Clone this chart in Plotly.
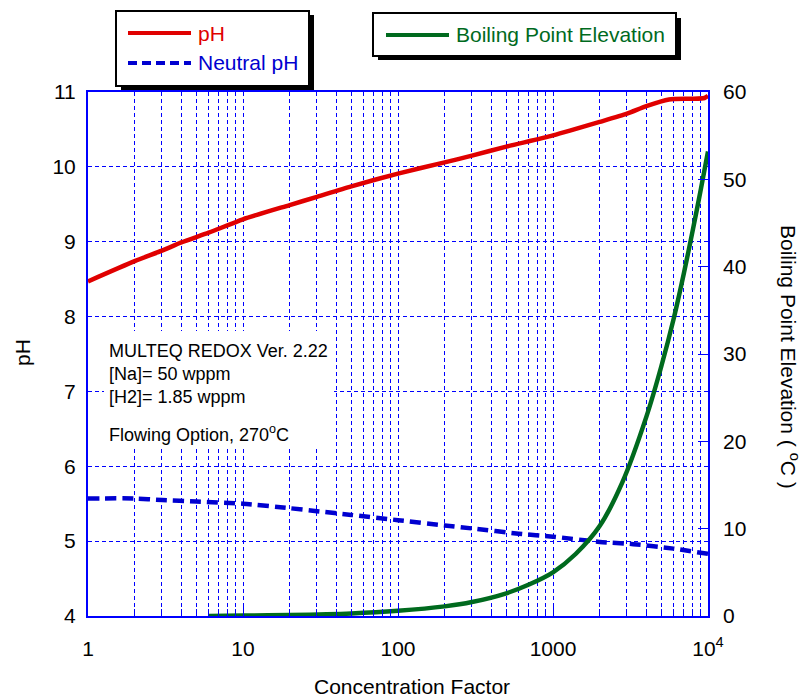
import plotly.graph_objects as go

# ---------------- data ----------------
cf_ph = [1, 2, 3, 4, 6, 10, 20, 30, 50, 100, 200, 300, 500, 1000, 2000, 3000, 4000, 5600, 7700, 9500, 10000]
ph = [8.47, 8.74, 8.88, 8.99, 9.12, 9.30, 9.49, 9.60, 9.74, 9.91, 10.06, 10.15, 10.27, 10.42, 10.60, 10.71,
      10.81, 10.90, 10.91, 10.92, 10.95]

cf_neutral = [1, 2, 3, 5, 10, 20, 30, 50, 100, 200, 300, 600, 1000, 2000, 3300, 6000, 10000]
neutral_ph = [5.57, 5.57, 5.55, 5.53, 5.50, 5.44, 5.40, 5.35, 5.28, 5.21, 5.17, 5.10, 5.06, 4.99, 4.96, 4.90, 4.83]

cf_bpe = [6, 10, 20, 50, 100, 200, 300, 500, 700, 1000, 1400, 2000, 2800, 4000, 5000, 6000, 7000, 8000,
          9000, 10000]
bpe = [0.0, 0.05, 0.12, 0.3, 0.6, 1.1, 1.6, 2.6, 3.6, 5.0, 7.1, 10.3, 15.3, 22.8, 28.6, 34.0, 39.3, 44.3,
       48.9, 53.2]

x_decades = [1, 10, 100, 1000, 10000]
x_decade_labels = ["1", "10", "100", "1000", "10<sup>4</sup>"]
ph_ticks = [4, 5, 6, 7, 8, 9, 10, 11]
bpe_ticks = [0, 10, 20, 30, 40, 50, 60]

# ---------------- styling ----------------
RED = "#e00000"
BLUE = "#0000d0"
GREEN = "#006a1e"
GRID = "#0000ff"
FONT = "Liberation Sans, Arial, sans-serif"
FS = 21

# minor log grid positions (2..9 in each decade)
x_minor_vals = [d * m for d in x_decades[:-1] for m in range(2, 10)]

fig = go.Figure()
fig.add_trace(go.Scatter(x=cf_ph, y=ph, mode="lines", name="pH",
                         line=dict(color=RED, width=4.5, shape="spline", smoothing=0.6), showlegend=False))
fig.add_trace(go.Scatter(x=cf_neutral, y=neutral_ph, mode="lines", name="Neutral pH",
                         line=dict(color=BLUE, width=4.5, dash="11px,6px", shape="spline", smoothing=0.6),
                         showlegend=False))
fig.add_trace(go.Scatter(x=cf_bpe, y=bpe, mode="lines", name="Boiling Point Elevation",
                         line=dict(color=GREEN, width=4.5, shape="spline", smoothing=0.8),
                         yaxis="y2", showlegend=False))

# pixel helpers for page-placed decorations
L, R, T, B = 88, 708, 92, 616
def px(x):
    return (x - L) / (R - L)
def py(y):
    return (B - y) / (B - T)

shapes = []
# white background behind the note text
shapes.append(dict(type="rect", xref="paper", yref="paper", layer="above",
                   x0=px(104), x1=px(334), y0=py(331), y1=py(448),
                   fillcolor="white", line=dict(width=0)))
# legend 1 (pH / Neutral pH)
shapes.append(dict(type="rect", xref="paper", yref="paper", x0=px(121), x1=px(314), y0=py(90), y1=py(15),
                   fillcolor="black", line=dict(width=0)))
shapes.append(dict(type="rect", xref="paper", yref="paper", x0=px(116), x1=px(309), y0=py(86), y1=py(11),
                   fillcolor="white", line=dict(color="black", width=2)))
shapes.append(dict(type="line", xref="paper", yref="paper", x0=px(128), x1=px(191), y0=py(33), y1=py(33),
                   line=dict(color=RED, width=4)))
shapes.append(dict(type="line", xref="paper", yref="paper", x0=px(128), x1=px(191), y0=py(63), y1=py(63),
                   line=dict(color=BLUE, width=4, dash="9px,5px")))
# legend 2 (Boiling Point Elevation)
shapes.append(dict(type="rect", xref="paper", yref="paper", x0=px(378), x1=px(681), y0=py(60), y1=py(18),
                   fillcolor="black", line=dict(width=0)))
shapes.append(dict(type="rect", xref="paper", yref="paper", x0=px(373), x1=px(676), y0=py(56), y1=py(13),
                   fillcolor="white", line=dict(color="black", width=2)))
shapes.append(dict(type="line", xref="paper", yref="paper", x0=px(386), x1=px(449), y0=py(35), y1=py(35),
                   line=dict(color=GREEN, width=4)))

ann = []
def text(x, y, s, size=18, color="black", xanchor="left", angle=0):
    ann.append(dict(x=px(x), y=py(y), xref="paper", yref="paper", text=s, showarrow=False,
                    xanchor=xanchor, yanchor="middle", textangle=angle,
                    font=dict(family=FONT, size=size, color=color)))

text(196, 33, "pH", FS, RED)
text(196, 63, "Neutral pH", FS, BLUE)
text(454, 35, "Boiling Point Elevation", FS, GREEN)

text(107, 351, "MULTEQ REDOX Ver. 2.22", 18)
text(107, 374, "[Na]= 50 wppm", 18)
text(107, 397, "[H2]= 1.85 wppm", 18)
text(107, 433, "Flowing Option, 270<sup>o</sup>C", 18)

text(22, 353, "pH", FS, xanchor="center", angle=-90)
text(790, 357, "Boiling Point Elevation ( <sup>o</sup>C )", FS, xanchor="center", angle=90)
text(412, 686, "Concentration Factor", FS, xanchor="center")

fig.update_layout(
    width=804, height=699, autosize=False,
    margin=dict(l=L, r=804 - R, t=T, b=699 - B, pad=0),
    paper_bgcolor="white", plot_bgcolor="white",
    font=dict(family=FONT, size=FS, color="black"),
    shapes=shapes, annotations=ann, showlegend=False,
    xaxis=dict(type="log", range=[0, 4], tickmode="array", tickvals=x_decades, ticktext=x_decade_labels,
               showgrid=True, gridcolor=GRID, griddash="4px,3px", gridwidth=1,
               minor=dict(tickmode="array", tickvals=x_minor_vals, showgrid=True, gridcolor=GRID,
                          griddash="4px,3px", gridwidth=1, ticks="inside", ticklen=7, tickcolor=GRID),
               showline=True, linecolor=GRID, linewidth=2, mirror=True,
               ticks="inside", ticklen=9, tickcolor=GRID, tickwidth=1,
               ticklabelstandoff=13, zeroline=False,
               tickfont=dict(family=FONT, size=FS, color="black")),
    yaxis=dict(range=[4, 11], tickmode="array", tickvals=ph_ticks,
               showgrid=True, gridcolor=GRID, griddash="4px,3px", gridwidth=1,
               showline=True, linecolor=GRID, linewidth=2, mirror=True, ticks="",
               ticklabelstandoff=6, zeroline=False,
               tickfont=dict(family=FONT, size=FS, color="black")),
    yaxis2=dict(range=[0, 60], tickmode="array", tickvals=bpe_ticks, overlaying="y", side="right",
                showgrid=False, showline=False, ticks="inside", ticklen=10, tickcolor=GRID, tickwidth=1,
                ticklabelstandoff=14, zeroline=False,
                tickfont=dict(family=FONT, size=FS, color="black")),
)

fig.write_html("out.html")
